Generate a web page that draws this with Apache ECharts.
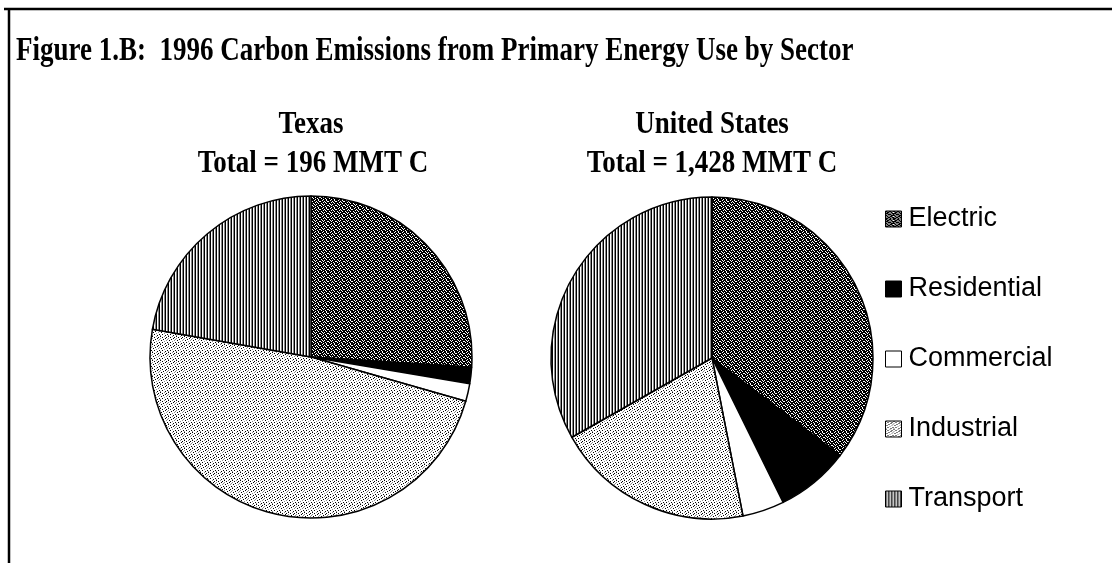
<!DOCTYPE html>
<html>
<head>
<meta charset="utf-8">
<title>1996 Carbon Emissions from Primary Energy Use by Sector</title>
<script src="https://cdn.jsdelivr.net/npm/echarts@6/dist/echarts.min.js"></script>
<style>
  html, body { margin: 0; padding: 0; background: #fff; }
  #chart { width: 1112px; height: 563px; }
</style>
</head>
<body>
<div id="chart"></div>
<script>
// Sectors and 1996 carbon emissions (MMT C) from primary energy use
const sectors = ['Electric', 'Residential', 'Commercial', 'Industrial', 'Transport'];
const texasValues = [51, 3.2, 3.5, 94.7, 43.6];      // Total = 196 MMT C
const usValues = [505, 105, 60, 284, 474];          // Total = 1,428 MMT C

const chartTitle = 'Figure 1.B:  1996 Carbon Emissions from Primary Energy Use by Sector';
const texasTitle = ['Texas', 'Total = 196 MMT C'];
const usTitle = ['United States', 'Total = 1,428 MMT C'];

// Small bitmap tiles used as monochrome fill patterns
function makePattern(rows, palette) {
  const h = rows.length, w = rows[0].length;
  const c = document.createElement('canvas');
  c.width = w; c.height = h;
  const ctx = c.getContext('2d');
  for (let y = 0; y < h; y++) {
    for (let x = 0; x < w; x++) {
      ctx.fillStyle = palette[rows[y][x]];
      ctx.fillRect(x, y, 1, 1);
    }
  }
  return { image: c, repeat: 'repeat' };
}

const pal = { '0': '#ffffff', '1': '#000000', '2': '#8a8a8a' };
const fills = {
  Electric: makePattern([
    '11011101',
    '01110110',
    '11101011',
    '10111101',
    '11010111',
    '01101110',
    '10111011',
    '11101101'
  ], pal),
  Residential: '#000000',
  Commercial: '#ffffff',
  Industrial: makePattern([
    '10002000',
    '00100010',
    '20000100',
    '00010002',
    '01000020',
    '00002000',
    '00100001',
    '20000100'
  ], pal),
  Transport: makePattern(['102'], pal)
};

function pieData(values) {
  return sectors.map((name, i) => ({
    name: name,
    value: values[i],
    itemStyle: { color: fills[name] }
  }));
}

function pieSeries(values, center) {
  return {
    type: 'pie',
    center: center,
    radius: 161,
    startAngle: 90,
    clockwise: true,
    label: { show: false },
    labelLine: { show: false },
    emphasis: { disabled: true },
    itemStyle: { borderColor: '#000', borderWidth: 1.5 },
    data: pieData(values)
  };
}

const serifBold = 'bold 27px "Liberation Serif", "Times New Roman", serif';
const subFont = 'bold 27px "Liberation Serif", "Times New Roman", serif';

function heading(text, x, y, font, scaleY, align, vAlign) {
  return {
    type: 'text', x: x, y: y, scaleY: scaleY,
    style: { text: text, font: font, fill: '#000', align: align, verticalAlign: vAlign }
  };
}

const chart = echarts.init(document.getElementById('chart'), null, { renderer: 'canvas' });
chart.setOption({
  animation: false,
  backgroundColor: '#ffffff',
  legend: {
    orient: 'vertical',
    left: 880,
    top: 199,
    icon: 'rect',
    itemWidth: 16,
    itemHeight: 16,
    itemGap: 40,
    selectedMode: false,
    itemStyle: { borderColor: '#000', borderWidth: 1 },
    textStyle: {
      fontFamily: '"Liberation Sans", Arial, sans-serif',
      fontSize: 27,
      color: '#000',
      lineHeight: 30,
      padding: [0, 0, 0, 2]
    },
    data: sectors
  },
  graphic: [
    // frame
    { type: 'line', shape: { x1: 4, y1: 9, x2: 1112, y2: 9 }, style: { stroke: '#000', lineWidth: 2.5 } },
    { type: 'line', shape: { x1: 9, y1: 8, x2: 9, y2: 563 }, style: { stroke: '#000', lineWidth: 2.5 } },
    heading(chartTitle, 16, 34, serifBold, 1.27, 'left', 'top'),
    heading(texasTitle[0], 311, 125, subFont, 1.2, 'center', 'middle'),
    heading(texasTitle[1], 313, 164, subFont, 1.2, 'center', 'middle'),
    heading(usTitle[0], 712, 125, subFont, 1.2, 'center', 'middle'),
    heading(usTitle[1], 712, 164, subFont, 1.2, 'center', 'middle')
  ],
  series: [
    pieSeries(texasValues, [311, 357]),
    pieSeries(usValues, [712, 358])
  ]
});
</script>
</body>
</html>
